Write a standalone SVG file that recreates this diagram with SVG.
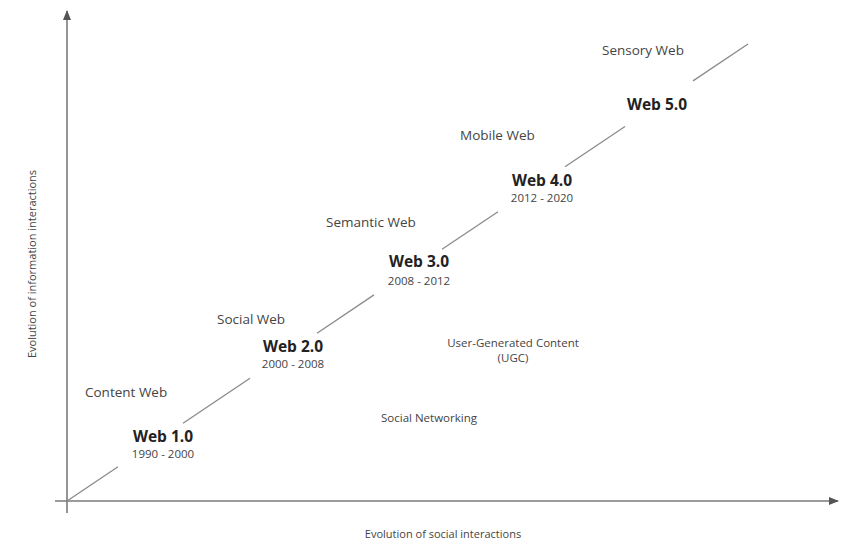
<svg xmlns="http://www.w3.org/2000/svg" width="842" height="553" viewBox="0 0 842 553">
  <defs>
    <marker id="arrow" viewBox="0 0 10 8" refX="9" refY="4" markerWidth="10" markerHeight="8" markerUnits="userSpaceOnUse" orient="auto">
      <path d="M0,0 L10,4 L0,8 Z" fill="#555"/>
    </marker>
    <style>
      .axis { stroke: #7a7a7a; stroke-width: 1.6; fill: none; }
      .trend { stroke: #8a8a8a; stroke-width: 1.3; fill: none; }
      .era { font-family: "Open Sans", "Liberation Sans", sans-serif; font-size: 13.5px; fill: #444; }
      .ver { font-family: "Open Sans", "Liberation Sans", sans-serif; font-size: 15.5px; font-weight: bold; fill: #222; text-anchor: middle; }
      .yrs { font-family: "Open Sans", "Liberation Sans", sans-serif; font-size: 11.5px; fill: #444; text-anchor: middle; }
      .note { font-family: "Open Sans", "Liberation Sans", sans-serif; font-size: 11.5px; fill: #444; text-anchor: middle; }
      .axlabel { font-family: "Open Sans", "Liberation Sans", sans-serif; font-size: 11px; fill: #444; text-anchor: middle; }
    </style>
  </defs>
  <rect width="842" height="553" fill="#fff"/>

  <!-- axes -->
  <g id="axes">
    <line class="axis" x1="67" y1="513" x2="67" y2="11" marker-end="url(#arrow)"/>
    <line class="axis" x1="55" y1="501" x2="838" y2="501" marker-end="url(#arrow)"/>
    <text class="axlabel" transform="translate(36,264) rotate(-90)">Evolution of information interactions</text>
    <text class="axlabel" x="443" y="538">Evolution of social interactions</text>
  </g>

  <!-- diagonal progression line, broken around the version labels -->
  <g id="connectors">
    <line class="trend" x1="67" y1="501" x2="118" y2="466.8"/>
    <line class="trend" x1="183" y1="423.2" x2="250" y2="378.2"/>
    <line class="trend" x1="317" y1="333.2" x2="374" y2="294.9"/>
    <line class="trend" x1="442" y1="249.3" x2="498" y2="211.8"/>
    <line class="trend" x1="565" y1="166.8" x2="625" y2="126.5"/>
    <line class="trend" x1="693" y1="80.9" x2="748" y2="44"/>
  </g>

  <g id="web1">
    <text class="era" x="85" y="397">Content Web</text>
    <text class="ver" x="163" y="442">Web 1.0</text>
    <text class="yrs" x="163" y="458">1990 - 2000</text>
  </g>
  <g id="web2">
    <text class="era" x="217" y="324">Social Web</text>
    <text class="ver" x="293" y="352">Web 2.0</text>
    <text class="yrs" x="293" y="368">2000 - 2008</text>
  </g>
  <g id="web3">
    <text class="era" x="326" y="227">Semantic Web</text>
    <text class="ver" x="419" y="267">Web 3.0</text>
    <text class="yrs" x="419" y="285">2008 - 2012</text>
  </g>
  <g id="web4">
    <text class="era" x="460" y="140">Mobile Web</text>
    <text class="ver" x="542" y="186">Web 4.0</text>
    <text class="yrs" x="542" y="202">2012 - 2020</text>
  </g>
  <g id="web5">
    <text class="era" x="602" y="55">Sensory Web</text>
    <text class="ver" x="657" y="110">Web 5.0</text>
  </g>

  <g id="ugc">
    <text class="note" x="513" y="347">User-Generated Content</text>
    <text class="note" x="513" y="362">(UGC)</text>
  </g>
  <g id="social-networking">
    <text class="note" x="429" y="422">Social Networking</text>
  </g>
</svg>
